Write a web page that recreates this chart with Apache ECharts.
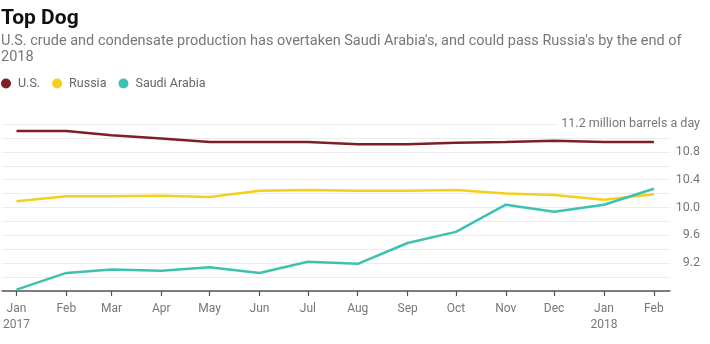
<!DOCTYPE html>
<html>
<head>
<meta charset="utf-8">
<script src="https://cdn.jsdelivr.net/npm/echarts@6/dist/echarts.min.js"></script>
<style>
  html, body { margin: 0; padding: 0; background: #fff; }
  #chart { width: 710px; height: 344px; }
</style>
</head>
<body>
<div id="chart"></div>
<script>
// Monthly production, million barrels a day
const months = ['2017-01', '2017-02', '2017-03', '2017-04', '2017-05', '2017-06', '2017-07',
                '2017-08', '2017-09', '2017-10', '2017-11', '2017-12', '2018-01', '2018-02'];
const usValues     = [11.10, 11.10, 11.04, 10.99, 10.94, 10.94, 10.94, 10.91, 10.91, 10.93, 10.94, 10.96, 10.94, 10.94];
const russiaValues = [10.09, 10.16, 10.16, 10.17, 10.15, 10.24, 10.25, 10.24, 10.24, 10.25, 10.20, 10.18, 10.11, 10.19];
const saudiValues  = [8.82, 9.06, 9.11, 9.09, 9.14, 9.06, 9.22, 9.19, 9.49, 9.65, 10.04, 9.94, 10.04, 10.27];
const monthNames = ['Jan', 'Feb', 'Mar', 'Apr', 'May', 'Jun', 'Jul', 'Aug', 'Sep', 'Oct', 'Nov', 'Dec'];
const yTicks = [9.2, 9.6, 10.0, 10.4, 10.8, 11.2];

// x positions are days since the first month, so spacing follows month lengths
const DAY = 86400000;
function toDate(s) {
  const [y, m] = s.split('-').map(Number);
  return Date.UTC(y, m - 1, 1);
}
const origin = toDate(months[0]);
const monthDays = months.map(s => Math.round((toDate(s) - origin) / DAY));

function dayLabel(d) {
  const dt = new Date(origin + d * DAY);
  const name = monthNames[dt.getUTCMonth()];
  return dt.getUTCMonth() === 0 ? name + '\n' + dt.getUTCFullYear() : name;
}

function pairs(values) {
  return values.map((v, i) => [monthDays[i], v]);
}

const font = 'Roboto, "Liberation Sans", sans-serif';

const chart = echarts.init(document.getElementById('chart'), null, { renderer: 'canvas' });
chart.setOption({
  animation: false,
  backgroundColor: '#fff',
  textStyle: { fontFamily: font },
  title: {
    text: 'Top Dog',
    subtext: "U.S. crude and condensate production has overtaken Saudi Arabia's, and could pass Russia's by the end of\n2018",
    left: 0,
    top: 3,
    padding: [5, 2, 5, 1],
    itemGap: 4,
    textStyle: { fontFamily: font, fontSize: 21, fontWeight: 'bold', color: '#111' },
    subtextStyle: { fontFamily: font, fontSize: 14.5, color: '#777', lineHeight: 16 }
  },
  legend: {
    left: 1,
    top: 77,
    padding: 0,
    icon: 'circle',
    itemWidth: 14,
    itemHeight: 10,
    itemGap: 12,
    textStyle: { fontFamily: font, fontSize: 12.5, color: '#666' },
    data: ['U.S.', 'Russia', 'Saudi Arabia']
  },
  grid: { left: 2, right: 40, top: 124, bottom: 53, containLabel: false },
  xAxis: {
    type: 'value',
    min: monthDays[0] - 9,
    max: monthDays[monthDays.length - 1] + 10,
    axisLine: { show: true, lineStyle: { color: '#555', width: 1.5 } },
    axisTick: { show: true, customValues: monthDays, length: 5, lineStyle: { color: '#555', width: 1.2 } },
    axisLabel: {
      customValues: monthDays,
      margin: 10,
      color: '#777',
      fontSize: 12,
      fontFamily: font,
      lineHeight: 16,
      formatter: dayLabel
    },
    splitLine: { show: false }
  },
  yAxis: {
    type: 'value',
    position: 'right',
    min: 8.8,
    max: 11.2,
    interval: 0.2,
    axisLine: { show: false },
    axisTick: { show: false },
    splitLine: { show: true, lineStyle: { color: '#ececec', width: 1 } },
    axisLabel: {
      align: 'right',
      margin: 30,
      color: '#777',
      fontSize: 12.5,
      fontFamily: font,
      backgroundColor: '#fff',
      padding: [0, 0, 0, 4],
      formatter: function (v) {
        const r = Math.round(v * 10) / 10;
        const idx = yTicks.findIndex(t => Math.abs(t - r) < 1e-6);
        if (idx < 0) return '';
        if (idx === yTicks.length - 1) return r.toFixed(1) + ' million barrels a day';
        return r.toFixed(1);
      }
    }
  },
  series: [
    { name: 'U.S.', type: 'line', data: pairs(usValues), showSymbol: false, symbol: 'circle',
      itemStyle: { color: '#7d1f27' }, lineStyle: { color: '#7d1f27', width: 2.5 } },
    { name: 'Russia', type: 'line', data: pairs(russiaValues), showSymbol: false, symbol: 'circle',
      itemStyle: { color: '#f4d01c' }, lineStyle: { color: '#f4d01c', width: 2.5 } },
    { name: 'Saudi Arabia', type: 'line', data: pairs(saudiValues), showSymbol: false, symbol: 'circle',
      itemStyle: { color: '#3cc2ae' }, lineStyle: { color: '#3cc2ae', width: 2.5 } }
  ]
});
</script>
</body>
</html>
